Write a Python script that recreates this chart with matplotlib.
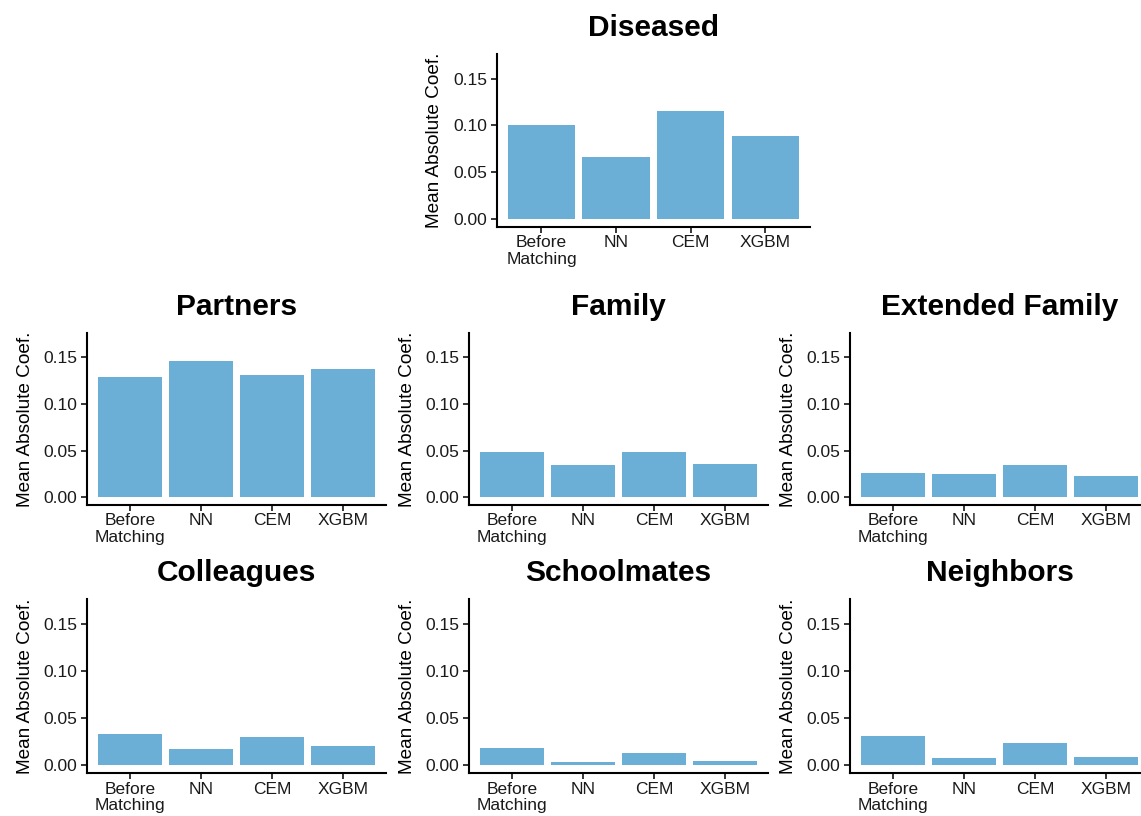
import matplotlib
matplotlib.use("Agg")
import matplotlib.pyplot as plt

methods = ["Before\nMatching", "NN", "CEM", "XGBM"]
panels = ["Diseased", "Partners", "Family", "Extended Family",
          "Colleagues", "Schoolmates", "Neighbors"]
diseased = [0.100, 0.066, 0.115, 0.089]
partners = [0.129, 0.146, 0.131, 0.1375]
family = [0.0486, 0.0346, 0.0486, 0.0357]
extended_family = [0.026, 0.025, 0.0346, 0.0228]
colleagues = [0.033, 0.0168, 0.0297, 0.020]
schoolmates = [0.018, 0.004, 0.0126, 0.005]
neighbors = [0.031, 0.0072, 0.0233, 0.0093]
yticks = [0.00, 0.05, 0.10, 0.15]

values = [diseased, partners, family, extended_family,
          colleagues, schoolmates, neighbors]

plt.rcParams['font.family'] = ['Liberation Sans', 'DejaVu Sans']

W, H = 1141, 816
fig = plt.figure(figsize=(W / 100, H / 100), dpi=100)

# axes boxes in pixel coordinates: left, right, top, bottom
col_x = [(87.3, 386), (469, 768), (850, 1149)]
boxes = [(496.7, 810, 54.3, 227)]
for top, bot in [(333.3, 505), (599.3, 773.3)]:
    for l, r in col_x:
        boxes.append((l, r, top, bot))

for name, vals, (l, r, t, b) in zip(panels, values, boxes):
    ax = fig.add_axes([l / W, 1 - b / H, (r - l) / W, (b - t) / H])
    x = list(range(1, len(methods) + 1))
    ax.bar(x, vals, width=0.9, color="#6BAED6")
    ax.set_xlim(0.4, 4.6)
    ax.set_ylim(-0.0085, 0.176)
    ax.set_xticks(x)
    ax.set_xticklabels(methods, fontsize=12.5, linespacing=1.15)
    ax.set_yticks(yticks)
    ax.set_yticklabels([f"{v:.2f}" for v in yticks], fontsize=12.5)
    ax.set_ylabel("Mean Absolute Coef.", fontsize=13.7, labelpad=7)
    ax.set_title(name, fontsize=21.5, fontweight="bold", pad=13.5)
    for s in ["top", "right"]:
        ax.spines[s].set_visible(False)
    for s in ["left", "bottom"]:
        ax.spines[s].set_linewidth(1.5)
        ax.spines[s].set_color("black")
    ax.tick_params(axis="x", pad=1.5)
    ax.tick_params(axis="both", length=4.5, width=1.1, colors="black",
                   labelcolor="#1a1a1a")
    ax.tick_params(axis="y", pad=2.5)

fig.savefig("out.png", dpi=100)
